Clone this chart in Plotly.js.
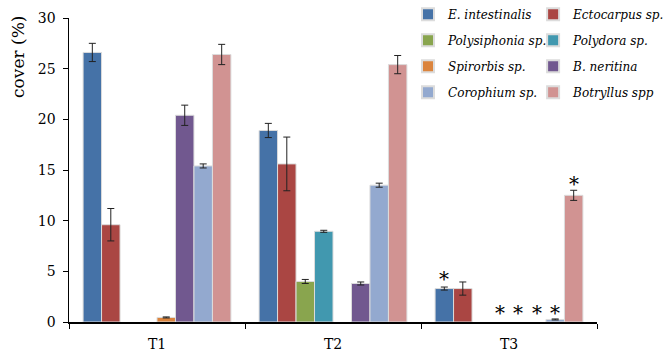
<!DOCTYPE html>
<html>
<head>
<meta charset="utf-8">
<script src="https://cdn.plot.ly/plotly-3.0.1.min.js"></script>
<style>html,body{margin:0;padding:0;background:#fff;}#chart{width:665px;height:352px;}</style>
</head>
<body>
<div id="chart"></div>
<script>
var categories = ['T1', 'T2', 'T3'];
var seriesNames = ['E. intestinalis', 'Ectocarpus sp.', 'Polysiphonia sp.', 'Polydora sp.', 'Spirorbis sp.', 'B. neritina', 'Corophium sp.', 'Botryllus spp'];
var colors = ['#4572A7', '#AA4643', '#89A54E', '#4198AF', '#DB843D', '#71588F', '#93A9CF', '#D19392'];
var yTitle = 'cover (%)';

var eIntestinalis = [26.6, 18.9, 3.3];
var ectocarpus    = [9.6, 15.6, 3.3];
var polysiphonia  = [0, 4.0, 0];
var polydora      = [0, 8.95, 0];
var spirorbis     = [0.45, 0, 0];
var bNeritina     = [20.4, 3.8, 0];
var corophium     = [15.4, 13.5, 0.25];
var botryllus     = [26.4, 25.4, 12.5];

var errEIntestinalis = [0.9, 0.7, 0.15];
var errEctocarpus    = [1.6, 2.65, 0.65];
var errPolysiphonia  = [0, 0.2, 0];
var errPolydora      = [0, 0.1, 0];
var errSpirorbis     = [0.05, 0, 0];
var errBNeritina     = [1.0, 0.15, 0];
var errCorophium     = [0.2, 0.2, 0.05];
var errBotryllus     = [1.0, 0.9, 0.5];

// significance marks on T3 (series index, y value)
var starSeries = [0, 3, 4, 5, 6, 7];
var starY      = [4.2, 0.9, 0.9, 0.9, 0.9, 13.6];
var starCategory = 'T3';

var values = [eIntestinalis, ectocarpus, polysiphonia, polydora, spirorbis, bNeritina, corophium, botryllus];
var errors = [errEIntestinalis, errEctocarpus, errPolysiphonia, errPolydora, errSpirorbis, errBNeritina, errCorophium, errBotryllus];

var serif = 'DejaVu Serif';

var traces = seriesNames.map(function (name, i) {
  return {
    type: 'bar',
    name: name,
    legendgroup: 'g' + i,
    x: categories,
    y: values[i].map(function (v) { return v > 0 ? v : null; }),
    legend: (i % 2 === 0) ? 'legend' : 'legend2',
    marker: { color: colors[i], line: { color: '#dcdcdc', width: 1 } },
    error_y: { type: 'data', array: errors[i], visible: true, color: '#222', thickness: 1, width: 3.5 },
    hoverinfo: 'skip'
  };
});

var plotW = 665 - 69 - 68;
var groupW = plotW / categories.length;
var bargap = 0.16;
var barW = groupW * (1 - bargap) / seriesNames.length;

var annotations = starSeries.map(function (s, k) {
  return {
    x: starCategory, y: starY[k], xref: 'x', yref: 'y',
    text: '*', showarrow: false,
    xshift: (s - (seriesNames.length - 1) / 2) * barW,
    font: { family: serif, size: 20, color: '#000' },
    yanchor: 'middle'
  };
});
annotations.push({
  text: yTitle, xref: 'paper', yref: 'paper', x: -0.0966, y: 0.872,
  xanchor: 'center', yanchor: 'middle', textangle: -90, showarrow: false,
  font: { family: serif, size: 17, color: '#000' }
});

var legendCommon = {
  orientation: 'v', bgcolor: 'rgba(0,0,0,0)',
  font: { family: serif, size: 12, color: '#000', style: 'italic' },
  tracegroupgap: 7, itemwidth: 30, itemsizing: 'constant',
  xanchor: 'left', yanchor: 'top', yref: 'paper', xref: 'paper'
};

var layout = {
  width: 665, height: 352,
  margin: { l: 69, r: 68, t: 18, b: 30, autoexpand: false },
  paper_bgcolor: '#fff', plot_bgcolor: '#fff',
  barmode: 'group', bargap: bargap, bargroupgap: 0,
  font: { family: serif, size: 14, color: '#000' },
  xaxis: {
    showline: true, linecolor: '#000', linewidth: 1.5,
    ticks: 'outside', tickson: 'boundaries', ticklen: 5, tickcolor: '#000',
    showgrid: false, zeroline: false, ticklabelstandoff: 9,
    tickfont: { family: serif, size: 14, color: '#000' }
  },
  yaxis: {
    range: [0, 30], dtick: 5,
    showline: true, linecolor: '#000', linewidth: 1.5,
    ticks: 'outside', ticklen: 5, tickcolor: '#000',
    showgrid: false, zeroline: false, ticklabelstandoff: 4,
    tickfont: { family: serif, size: 14, color: '#000' }
  },
  legend: Object.assign({}, legendCommon, { x: 0.642, y: 1.06 }),
  legend2: Object.assign({}, legendCommon, { x: 0.879, y: 1.06 }),
  annotations: annotations,
  showlegend: true
};

Plotly.newPlot('chart', traces, layout, { displayModeBar: false, staticPlot: true });
</script>
</body>
</html>
